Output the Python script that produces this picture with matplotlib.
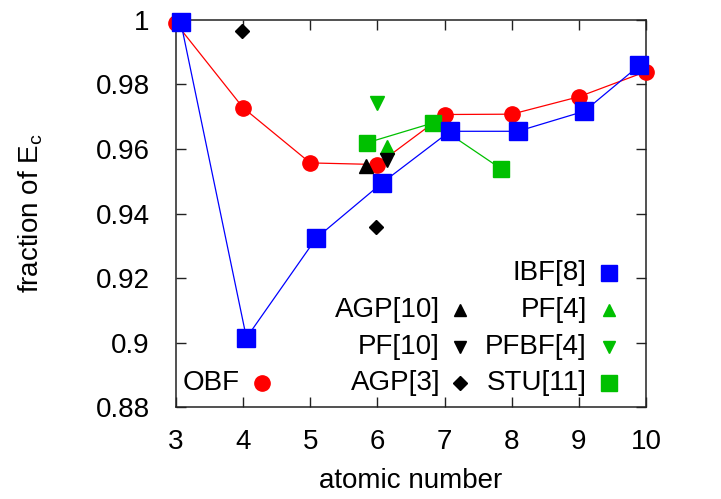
import matplotlib.pyplot as plt
from matplotlib.ticker import FuncFormatter

plt.rcParams['font.family'] = ['Liberation Sans', 'DejaVu Sans']

# data
obf_x = [3, 4, 5, 6, 7, 8, 9, 10]
obf_y = [0.9990, 0.9728, 0.9557, 0.9552, 0.9707, 0.9708, 0.9762, 0.9840]

ibf_x = [3.07, 4.05, 5.09, 6.07, 7.08, 8.09, 9.08, 9.90]
ibf_y = [0.9995, 0.9015, 0.9324, 0.9495, 0.9655, 0.9655, 0.9717, 0.9859]

stu_x = [5.84, 6.83, 7.84]
stu_y = [0.9619, 0.9681, 0.9539]

pf4_x, pf4_y = [6.14], [0.9605]
pfbf4_x, pfbf4_y = [5.99], [0.9743]
agp10_x, agp10_y = [5.83], [0.9547]
pf10_x, pf10_y = [6.14], [0.9567]
agp3_x = [3.98, 5.98]
agp3_y = [0.9967, 0.9358]

RED = '#ff0000'
BLUE = '#0000ff'
GREEN = '#00c000'
FS = 20

fig = plt.figure(figsize=(7.21, 4.99), dpi=100)
ax = fig.add_axes([0.244, 0.184, 0.652, 0.776])

ax.plot(obf_x, obf_y, '-', color=RED, lw=0.9, marker='o', ms=11, mec=RED, mfc=RED, clip_on=False, zorder=3)
ax.plot(ibf_x, ibf_y, '-', color=BLUE, lw=0.9, marker='s', ms=13, mec=BLUE, mfc=BLUE, clip_on=False, zorder=4)
ax.plot(stu_x, stu_y, '-', color=GREEN, lw=0.9, marker='s', ms=12, mec=GREEN, mfc=GREEN, zorder=3)
ax.plot(pf4_x, pf4_y, '^', color=GREEN, ms=10, zorder=5)
ax.plot(pfbf4_x, pfbf4_y, 'v', color=GREEN, ms=10, zorder=5)
ax.plot(agp10_x, agp10_y, '^', color='black', ms=10, zorder=5)
ax.plot(pf10_x, pf10_y, 'v', color='black', ms=10, zorder=5)
ax.plot(agp3_x, agp3_y, 'D', color='black', ms=7.5, zorder=5)

ax.set_xlim(3, 10)
ax.set_ylim(0.88, 1.0)
ax.set_xticks(range(3, 11))
ax.set_yticks([0.88, 0.90, 0.92, 0.94, 0.96, 0.98, 1.0])
ax.yaxis.set_major_formatter(FuncFormatter(lambda v, p: '%g' % round(v, 2)))
ax.tick_params(direction='in', length=7, width=1, top=True, right=True,
               labelsize=FS, colors='#222222', labelcolor='black')
ax.tick_params(axis='y', pad=19)
ax.tick_params(axis='x', pad=16)
for s in ax.spines.values():
    s.set_linewidth(1.1)
    s.set_color('#222222')

ax.set_xlabel('atomic number', fontsize=FS, labelpad=9)
ax.set_ylabel('fraction of E$_\\mathregular{c}$', fontsize=FS, labelpad=36)

# gnuplot-style key: text right-aligned, marker to the right
def key(xt, xm, y, label, marker, color, ms):
    ax.text(xt, y, label, transform=ax.transAxes, ha='right', va='center', fontsize=FS)
    ax.plot([xm], [y], marker, color=color, ms=ms, transform=ax.transAxes, clip_on=False)

rows = [0.346, 0.251, 0.155, 0.062]
key(0.874, 0.921, rows[0], 'IBF[8]', 's', BLUE, 12)
key(0.562, 0.604, rows[1], 'AGP[10]', '^', 'black', 9)
key(0.874, 0.921, rows[1], 'PF[4]', '^', GREEN, 9)
key(0.562, 0.604, rows[2], 'PF[10]', 'v', 'black', 9)
key(0.874, 0.921, rows[2], 'PFBF[4]', 'v', GREEN, 9)
key(0.562, 0.604, rows[3], 'AGP[3]', 'D', 'black', 7)
key(0.874, 0.921, rows[3], 'STU[11]', 's', GREEN, 12)
key(0.136, 0.183, rows[3], 'OBF', 'o', RED, 11)

fig.savefig('out.png', dpi=100)
